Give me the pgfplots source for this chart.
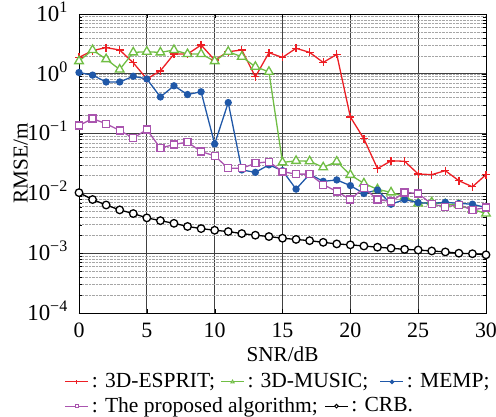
\documentclass[border=0pt]{standalone}
\usepackage{fontspec}
\setmainfont{Liberation Serif}
\usepackage{pgfplots}
\pgfplotsset{compat=1.18}
\usetikzlibrary{calc}
\definecolor{cred}{RGB}{237,30,36}
\definecolor{cgreen}{RGB}{112,190,68}
\definecolor{cblue}{RGB}{32,88,168}
\definecolor{cpurple}{RGB}{170,85,175}
\begin{document}
\fontsize{21.6}{26}\selectfont
\begin{tikzpicture}[font=\fontsize{21.6}{26}\selectfont]
\pgfplotsset{
  legimg/.style={legend image code/.code={\draw[mark repeat=2,mark phase=2,##1,line width=1pt,mark size=1.8pt] plot coordinates {(0bp,0bp) (11.5bp,0bp) (23bp,0bp)};}},
}
\begin{axis}[
  name=main,
  scale only axis, width=407bp, height=299bp,
  ymode=log, xmin=0, xmax=30, ymin=1e-4, ymax=10,
  xtick={0,5,...,30},
  ytick={1e-4,1e-3,1e-2,1e-1,1,10},
  yticklabels={10\textsuperscript{−4},10\textsuperscript{−3},10\textsuperscript{−2},10\textsuperscript{−1},10\textsuperscript{0},10\textsuperscript{1}},
  /pgf/number format/assume math mode=true,
  grid=both,
  major grid style={black!75, line width=0.7pt},
  minor grid style={gray!70, densely dotted, line width=0.5pt},
  axis line style={line width=1pt},
  tick style={black},
  tick align=inside,
  xlabel={SNR/dB}, ylabel={RMSE/m},
  xlabel style={at={(axis description cs:0.5,-0.112)}, anchor=north, inner sep=0pt, font=\fontsize{21.3}{25}\selectfont},
  ylabel style={at={(axis description cs:-0.1253,0.5)}, anchor=south, inner sep=0pt, font=\fontsize{21.3}{25}\selectfont},
  xticklabel style={font=\fontsize{22}{26}\selectfont, inner sep=0pt, yshift=-10bp},
  yticklabel style={font=\fontsize{23}{27}\selectfont, inner sep=0pt, xshift=-11bp, anchor=east, text height=0.68em, text depth=0pt},
  legend style={at={(-0.0351,-0.194)}, anchor=north west, draw=none, fill=none,
    legend columns=3,
    /tikz/every odd column/.append style={column sep=1bp},
    /tikz/column 2/.append style={column sep=3.5bp},
    /tikz/column 4/.append style={column sep=9.7bp},
    font=\fontsize{21.6}{26}\selectfont, inner sep=0pt},
  legimg,
  every axis plot/.append style={line width=1.3pt},
]
\addplot[cred, mark=+, mark size=4pt] coordinates {
(0,1.88)(1,2.45)(2,2.74)(3,2.5)(4,1.53)(5,0.82)(6,1.12)(7,2.14)(8,2.14)(9,3.03)(10,1.7)
(11,2.34)(12,2.5)(13,0.89)(14,2.25)(15,1.88)(16,2.67)(17,2.28)(18,1.55)(19,2.11)(20,0.19)
(21,0.082)(22,0.026)(23,0.035)(24,0.0345)(25,0.0211)(26,0.0206)(27,0.024)(28,0.0163)(29,0.0129)(30,0.0206)};
\addlegendentry{: 3D-ESPRIT;}
\addplot[cgreen, mark=triangle*, mark size=5pt, mark options={fill=white}] coordinates {
(0,1.63)(1,2.5)(2,1.76)(3,1.18)(4,2.28)(5,2.34)(6,2.28)(7,2.5)(8,2.14)(9,2.14)(10,1.63)
(11,2.34)(12,1.93)(13,1.31)(14,1.08)(15,0.033)(16,0.035)(17,0.0345)(18,0.0273)(19,0.034)(20,0.0204)
(21,0.0147)(22,0.0117)(23,0.0104)(24,0.0088)(25,0.0068)(26,0.0071)(27,0.0066)(28,0.0064)(29,0.0054)(30,0.0046)};
\addlegendentry{: 3D-MUSIC;}
\addplot[cblue, mark=*, mark size=3pt] coordinates {
(0,1.05)(1,0.95)(2,0.73)(3,0.73)(4,0.91)(5,0.82)(6,0.41)(7,0.63)(8,0.45)(9,0.5)(10,0.067)
(11,0.33)(12,0.0247)(13,0.0225)(14,0.03)(15,0.024)(16,0.0118)(17,0.021)(18,0.0159)(19,0.0168)(20,0.0135)
(21,0.01)(22,0.0114)(23,0.0066)(24,0.0079)(25,0.007)(26,0.0068)(27,0.0071)(28,0.0068)(29,0.0066)(30,0.0058)};
\addlegendentry{: MEMP;}
\addplot[cpurple, mark=square*, mark size=3.5pt, mark options={fill=white}] coordinates {
(0,0.137)(1,0.178)(2,0.146)(3,0.113)(4,0.084)(5,0.117)(6,0.057)(7,0.066)(8,0.072)(9,0.05)(10,0.0425)
(11,0.0263)(12,0.0263)(13,0.0319)(14,0.0339)(15,0.0231)(16,0.021)(17,0.021)(18,0.014)(19,0.0108)(20,0.0079)
(21,0.0124)(22,0.0079)(23,0.0073)(24,0.0104)(25,0.01)(26,0.0066)(27,0.006)(28,0.0064)(29,0.0053)(30,0.0058)};
\addplot[black, mark=*, mark size=3.8pt, mark options={fill=white}] coordinates {
(0,0.0103)(1,0.0079)(2,0.0064)(3,0.0053)(4,0.0046)(5,0.0039)(6,0.0035)(7,0.00316)(8,0.0028)(9,0.00258)(10,0.00242)
(11,0.0023)(12,0.00213)(13,0.002)(14,0.0019)(15,0.00178)(16,0.0017)(17,0.00162)(18,0.00152)(19,0.00143)(20,0.00138)
(21,0.00132)(22,0.00126)(23,0.00121)(24,0.00116)(25,0.00113)(26,0.00109)(27,0.00105)(28,0.001)(29,0.00098)(30,0.00094)};
\end{axis}
\begin{axis}[
  scale only axis, width=407bp, height=299bp,
  hide axis, xmin=0, xmax=1, ymin=0, ymax=1,
  legend style={at={(-0.0351,-0.274)}, anchor=north west, draw=none, fill=none,
    legend columns=2,
    /tikz/every odd column/.append style={column sep=1bp},
    /tikz/column 2/.append style={column sep=4.7bp},
    font=\fontsize{21.6}{26}\selectfont, inner sep=0pt},
  legimg,
]
\addlegendimage{cpurple, mark=square*, mark options={fill=white}}
\addlegendentry{: The proposed algorithm;}
\addlegendimage{black, mark=*, mark options={fill=white}}
\addlegendentry{: CRB.}
\end{axis}
\pgfresetboundingbox
\path ($(main.south west)+(-79bp,-104bp)$) rectangle ($(main.north east)+(10bp,14bp)$);
\end{tikzpicture}
\end{document}
